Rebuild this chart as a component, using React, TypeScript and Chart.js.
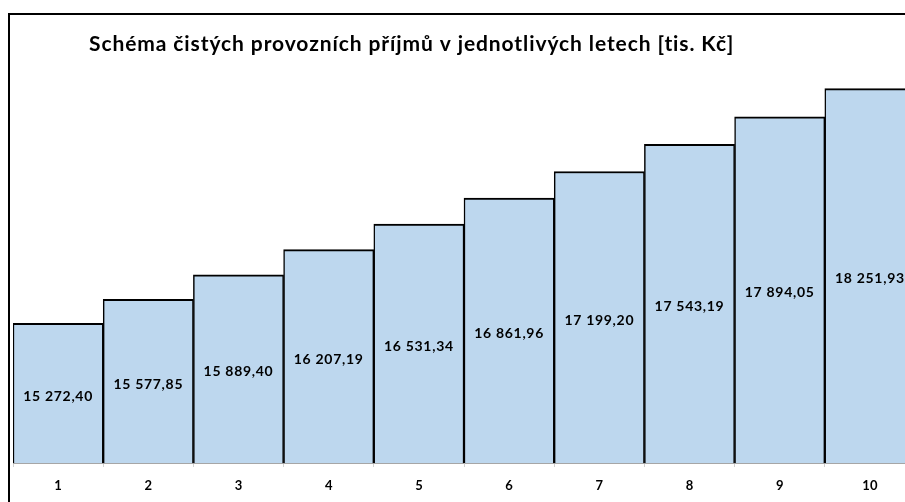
import React, { useEffect, useRef } from "react";
import { Chart, registerables } from "chart.js";

Chart.register(...registerables);

const categories = ["1", "2", "3", "4", "5", "6", "7", "8", "9", "10"];
const values = [15272.4, 15577.85, 15889.4, 16207.19, 16531.34, 16861.96, 17199.2, 17543.19, 17894.05, 18251.93];
const chartTitle = "Schéma čistých provozních příjmů v jednotlivých letech [tis. Kč]";
const yMin = 13500;
const yMax = 18500;

const FONT = "Lato, 'Open Sans', sans-serif";

function fmt(v: number): string {
  const parts = v.toFixed(2).split(".");
  const intPart = parts[0].replace(/\B(?=(\d{3})+(?!\d))/g, " ");
  return intPart + "," + parts[1];
}

const overlayPlugin = {
  id: "overlay",
  afterDraw(chart: any) {
    const ctx = chart.ctx as CanvasRenderingContext2D;
    const xs = chart.scales.x;
    const ys = chart.scales.y;
    const base = ys.getPixelForValue(yMin);
    ctx.save();
    ctx.fillStyle = "#000000";
    ctx.font = `bold 14px ${FONT}`;
    (ctx as any).letterSpacing = "0.7px";
    ctx.textAlign = "center";
    ctx.textBaseline = "middle";
    for (let i = 0; i < values.length; i++) {
      const x = xs.getPixelForValue(i);
      const top = ys.getPixelForValue(values[i]);
      const mid = (top + base) / 2 + 3;
      ctx.fillText(fmt(values[i]), x, mid);
    }
    ctx.font = `bold 21px ${FONT}`;
    (ctx as any).letterSpacing = "0.9px";
    ctx.textAlign = "left";
    ctx.textBaseline = "alphabetic";
    ctx.fillText(chartTitle, 79, 36);
    ctx.restore();
  },
};

export default function App() {
  const ref = useRef<HTMLCanvasElement | null>(null);
  useEffect(() => {
    if (!ref.current) return;
    const chart = new Chart(ref.current, {
      type: "bar",
      data: {
        labels: categories,
        datasets: [
          {
            data: values,
            backgroundColor: "#bdd7ee",
            borderColor: "#000000",
            borderWidth: { top: 2, bottom: 2, left: 1.5, right: 1.5 },
            borderSkipped: false,
            barPercentage: 1,
            categoryPercentage: 1,
          },
        ],
      },
      options: {
        animation: false,
        responsive: false,
        maintainAspectRatio: false,
        devicePixelRatio: 1,
        layout: { padding: { left: 3, right: 3, top: 54, bottom: 0 } },
        plugins: {
          legend: { display: false },
          title: { display: false },
          tooltip: { enabled: false },
        },
        scales: {
          x: {
            afterFit: (s: any) => {
              s.height = 52;
            },
            grid: {
              display: true,
              drawOnChartArea: false,
              drawTicks: true,
              tickLength: 4,
              color: "#d0d0d0",
              offset: true,
            },
            border: { display: true, color: "#a6a6a6", width: 1 },
            ticks: {
              color: "#000",
              padding: 11,
              font: { family: FONT, size: 13, weight: "bold" },
            },
          },
          y: {
            display: false,
            min: yMin,
            max: yMax,
          },
        },
      },
      plugins: [overlayPlugin],
    } as any);
    return () => chart.destroy();
  }, []);

  return (
    <div
      style={{
        position: "fixed",
        left: 0,
        top: 0,
        width: 905,
        height: 502,
        overflow: "hidden",
        background: "#fff",
      }}
    >
      <div
        style={{
          position: "absolute",
          left: 8,
          top: 13,
          width: 930,
          height: 530,
          border: "2px solid #000",
          boxSizing: "border-box",
        }}
      >
        <canvas
          ref={ref}
          width={908}
          height={500}
          style={{ position: "absolute", left: 0, top: 0, display: "block", width: 908, height: 500 }}
        />
      </div>
    </div>
  );
}
